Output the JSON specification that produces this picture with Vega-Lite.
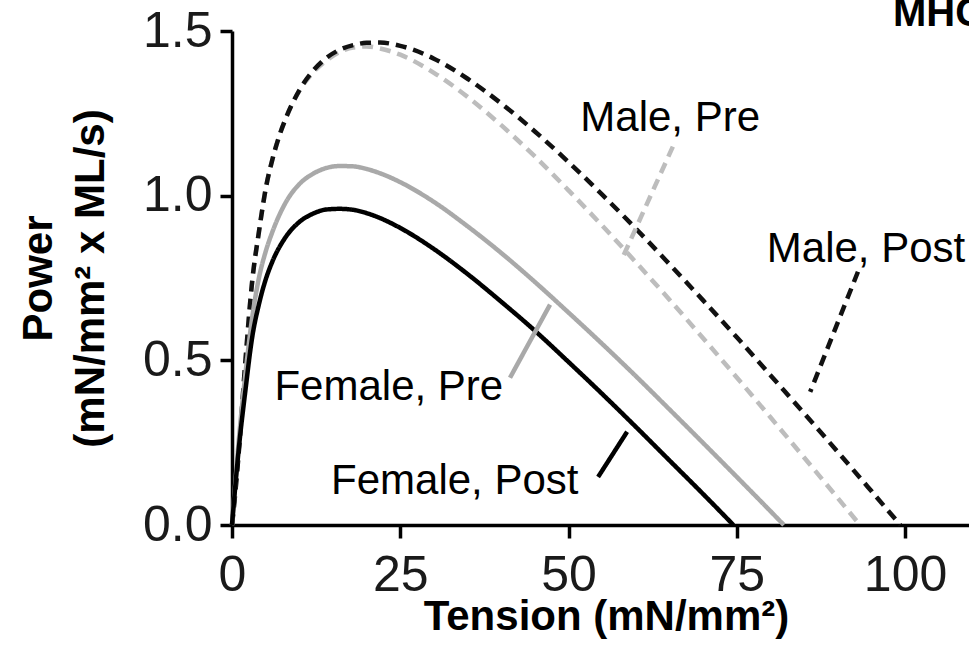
{
  "$schema": "https://vega.github.io/schema/vega-lite/v6.json",
  "autosize": {"type": "none"},
  "padding": {"left": 232, "top": 31, "right": 0, "bottom": 142},
  "width": 737,
  "height": 494,
  "background": "white",
  "config": {
    "view": {"stroke": null},
    "font": "Liberation Sans",
    "axis": {"grid": false}
  },
  "datasets": {
    "curves": [
      {"series": "Male, Pre", "t": 0, "p": 0},
      {"series": "Male, Pre", "t": 0.5, "p": 0.1},
      {"series": "Male, Pre", "t": 1, "p": 0.22},
      {"series": "Male, Pre", "t": 2, "p": 0.5},
      {"series": "Male, Pre", "t": 3, "p": 0.74},
      {"series": "Male, Pre", "t": 4, "p": 0.89},
      {"series": "Male, Pre", "t": 5, "p": 1.02},
      {"series": "Male, Pre", "t": 6, "p": 1.11},
      {"series": "Male, Pre", "t": 7, "p": 1.18},
      {"series": "Male, Pre", "t": 8, "p": 1.235},
      {"series": "Male, Pre", "t": 10, "p": 1.318},
      {"series": "Male, Pre", "t": 12, "p": 1.373},
      {"series": "Male, Pre", "t": 14, "p": 1.41},
      {"series": "Male, Pre", "t": 16, "p": 1.436},
      {"series": "Male, Pre", "t": 18, "p": 1.45},
      {"series": "Male, Pre", "t": 20, "p": 1.453},
      {"series": "Male, Pre", "t": 22, "p": 1.447},
      {"series": "Male, Pre", "t": 25, "p": 1.428},
      {"series": "Male, Pre", "t": 30, "p": 1.373},
      {"series": "Male, Pre", "t": 35, "p": 1.3},
      {"series": "Male, Pre", "t": 40, "p": 1.214},
      {"series": "Male, Pre", "t": 45, "p": 1.119},
      {"series": "Male, Pre", "t": 50, "p": 1.016},
      {"series": "Male, Pre", "t": 55, "p": 0.909},
      {"series": "Male, Pre", "t": 60, "p": 0.798},
      {"series": "Male, Pre", "t": 65, "p": 0.684},
      {"series": "Male, Pre", "t": 70, "p": 0.567},
      {"series": "Male, Pre", "t": 75, "p": 0.448},
      {"series": "Male, Pre", "t": 80, "p": 0.327},
      {"series": "Male, Pre", "t": 85, "p": 0.205},
      {"series": "Male, Pre", "t": 90, "p": 0.082},
      {"series": "Male, Pre", "t": 93.3, "p": 0},
      {"series": "Male, Post", "t": 0, "p": 0},
      {"series": "Male, Post", "t": 0.5, "p": 0.1},
      {"series": "Male, Post", "t": 1, "p": 0.22},
      {"series": "Male, Post", "t": 2, "p": 0.5},
      {"series": "Male, Post", "t": 3, "p": 0.74},
      {"series": "Male, Post", "t": 4, "p": 0.89},
      {"series": "Male, Post", "t": 5, "p": 1.02},
      {"series": "Male, Post", "t": 6, "p": 1.11},
      {"series": "Male, Post", "t": 7, "p": 1.18},
      {"series": "Male, Post", "t": 8, "p": 1.235},
      {"series": "Male, Post", "t": 10, "p": 1.32},
      {"series": "Male, Post", "t": 12, "p": 1.378},
      {"series": "Male, Post", "t": 14, "p": 1.418},
      {"series": "Male, Post", "t": 16, "p": 1.443},
      {"series": "Male, Post", "t": 18, "p": 1.457},
      {"series": "Male, Post", "t": 20, "p": 1.464},
      {"series": "Male, Post", "t": 22, "p": 1.465},
      {"series": "Male, Post", "t": 25, "p": 1.455},
      {"series": "Male, Post", "t": 30, "p": 1.416},
      {"series": "Male, Post", "t": 35, "p": 1.355},
      {"series": "Male, Post", "t": 40, "p": 1.28},
      {"series": "Male, Post", "t": 45, "p": 1.195},
      {"series": "Male, Post", "t": 50, "p": 1.102},
      {"series": "Male, Post", "t": 55, "p": 1.003},
      {"series": "Male, Post", "t": 60, "p": 0.9},
      {"series": "Male, Post", "t": 65, "p": 0.792},
      {"series": "Male, Post", "t": 70, "p": 0.682},
      {"series": "Male, Post", "t": 75, "p": 0.57},
      {"series": "Male, Post", "t": 80, "p": 0.455},
      {"series": "Male, Post", "t": 85, "p": 0.339},
      {"series": "Male, Post", "t": 90, "p": 0.222},
      {"series": "Male, Post", "t": 95, "p": 0.103},
      {"series": "Male, Post", "t": 99.3, "p": 0},
      {"series": "Female, Pre", "t": 0, "p": 0},
      {"series": "Female, Pre", "t": 0.5, "p": 0.13},
      {"series": "Female, Pre", "t": 1, "p": 0.255},
      {"series": "Female, Pre", "t": 2, "p": 0.46},
      {"series": "Female, Pre", "t": 3, "p": 0.63},
      {"series": "Female, Pre", "t": 4, "p": 0.75},
      {"series": "Female, Pre", "t": 5, "p": 0.83},
      {"series": "Female, Pre", "t": 6, "p": 0.89},
      {"series": "Female, Pre", "t": 8, "p": 0.98},
      {"series": "Female, Pre", "t": 10, "p": 1.035},
      {"series": "Female, Pre", "t": 12, "p": 1.066},
      {"series": "Female, Pre", "t": 14, "p": 1.084},
      {"series": "Female, Pre", "t": 16, "p": 1.09},
      {"series": "Female, Pre", "t": 18, "p": 1.089},
      {"series": "Female, Pre", "t": 20, "p": 1.081},
      {"series": "Female, Pre", "t": 22, "p": 1.068},
      {"series": "Female, Pre", "t": 25, "p": 1.041},
      {"series": "Female, Pre", "t": 30, "p": 0.981},
      {"series": "Female, Pre", "t": 35, "p": 0.907},
      {"series": "Female, Pre", "t": 40, "p": 0.826},
      {"series": "Female, Pre", "t": 45, "p": 0.738},
      {"series": "Female, Pre", "t": 50, "p": 0.645},
      {"series": "Female, Pre", "t": 55, "p": 0.55},
      {"series": "Female, Pre", "t": 60, "p": 0.452},
      {"series": "Female, Pre", "t": 65, "p": 0.351},
      {"series": "Female, Pre", "t": 70, "p": 0.249},
      {"series": "Female, Pre", "t": 75, "p": 0.146},
      {"series": "Female, Pre", "t": 80, "p": 0.042},
      {"series": "Female, Pre", "t": 82, "p": 0},
      {"series": "Female, Post", "t": 0, "p": 0},
      {"series": "Female, Post", "t": 0.5, "p": 0.12},
      {"series": "Female, Post", "t": 1, "p": 0.23},
      {"series": "Female, Post", "t": 2, "p": 0.41},
      {"series": "Female, Post", "t": 3, "p": 0.57},
      {"series": "Female, Post", "t": 4, "p": 0.67},
      {"series": "Female, Post", "t": 5, "p": 0.745},
      {"series": "Female, Post", "t": 6, "p": 0.8},
      {"series": "Female, Post", "t": 8, "p": 0.875},
      {"series": "Female, Post", "t": 10, "p": 0.92},
      {"series": "Female, Post", "t": 12, "p": 0.945},
      {"series": "Female, Post", "t": 14, "p": 0.958},
      {"series": "Female, Post", "t": 16, "p": 0.96},
      {"series": "Female, Post", "t": 18, "p": 0.957},
      {"series": "Female, Post", "t": 20, "p": 0.947},
      {"series": "Female, Post", "t": 22, "p": 0.932},
      {"series": "Female, Post", "t": 25, "p": 0.902},
      {"series": "Female, Post", "t": 30, "p": 0.838},
      {"series": "Female, Post", "t": 35, "p": 0.762},
      {"series": "Female, Post", "t": 40, "p": 0.678},
      {"series": "Female, Post", "t": 45, "p": 0.59},
      {"series": "Female, Post", "t": 50, "p": 0.495},
      {"series": "Female, Post", "t": 55, "p": 0.398},
      {"series": "Female, Post", "t": 60, "p": 0.298},
      {"series": "Female, Post", "t": 65, "p": 0.196},
      {"series": "Female, Post", "t": 70, "p": 0.094},
      {"series": "Female, Post", "t": 74.5, "p": 0}
    ],
    "leaders": [
      {"series": "Male, Pre", "x1": 65.5, "y1": 1.149, "x2": 58.1, "y2": 0.815},
      {"series": "Male, Post", "x1": 93.0, "y1": 0.769, "x2": 85.9, "y2": 0.404},
      {"series": "Female, Pre", "x1": 47.25, "y1": 0.669, "x2": 41.3, "y2": 0.447},
      {"series": "Female, Post", "x1": 58.7, "y1": 0.283, "x2": 54.4, "y2": 0.146}
    ],
    "labels": [
      {"label": "Male, Pre", "x": 65.1, "y": 1.195},
      {"label": "Male, Post", "x": 94.2, "y": 0.8},
      {"label": "Female, Pre", "x": 23.3, "y": 0.38},
      {"label": "Female, Post", "x": 33.1, "y": 0.094}
    ],
    "heading": [
      {"label": "MHC I", "x": 98.2, "y": 1.515}
    ]
  },
  "layer": [
    {
      "data": {"name": "curves"},
      "mark": {"type": "line", "interpolate": "monotone", "clip": false},
      "encoding": {
        "x": {
          "field": "t", "type": "quantitative",
          "scale": {"domain": [0, 109.5], "nice": false, "zero": false},
          "axis": {
            "values": [0, 25, 50, 75, 100],
            "title": "Tension (mN/mm²)",
            "domainColor": "black", "domainWidth": 3.5,
            "tickColor": "black", "tickWidth": 3.5, "tickSize": 13,
            "labelFont": "Liberation Sans", "labelFontSize": 50, "labelColor": "#1a1a1a",
            "labelPadding": 12, "labelFlush": false, "labelOverlap": false,
            "titleFont": "Liberation Sans", "titleFontSize": 42, "titleFontWeight": "bold", "titleColor": "black",
            "titleX": 374, "titleY": 104, "titleBaseline": "alphabetic", "titleAlign": "center"
          }
        },
        "y": {
          "field": "p", "type": "quantitative",
          "scale": {"domain": [0, 1.5], "nice": false},
          "axis": {
            "values": [0, 0.5, 1.0, 1.5],
            "format": ".1f",
            "title": ["Power", "(mN/mm² x ML/s)"],
            "domainColor": "black", "domainWidth": 3.5,
            "tickColor": "black", "tickWidth": 3.5, "tickSize": 12,
            "labelFont": "Liberation Sans", "labelFontSize": 50, "labelColor": "#1a1a1a",
            "labelPadding": 8, "labelFlush": false, "labelOverlap": false,
            "titleFont": "Liberation Sans", "titleFontSize": 42, "titleFontWeight": "bold", "titleColor": "black",
            "titleAngle": -90, "titleX": -172, "titleY": 247, "titleAlign": "center", "titleBaseline": "bottom", "titleLineHeight": 52
          }
        },
        "detail": {"field": "series"},
        "color": {
          "field": "series", "type": "nominal",
          "scale": {"domain": ["Male, Pre", "Male, Post", "Female, Pre", "Female, Post"], "range": ["#bdbdbd", "#111111", "#a9a9a9", "#000000"]},
          "legend": null
        },
        "strokeDash": {
          "field": "series", "type": "nominal",
          "scale": {"domain": ["Male, Pre", "Male, Post", "Female, Pre", "Female, Post"], "range": [[11, 7], [11, 7], [1, 0], [1, 0]]},
          "legend": null
        },
        "strokeWidth": {
          "field": "series", "type": "nominal",
          "scale": {"domain": ["Male, Pre", "Male, Post", "Female, Pre", "Female, Post"], "range": [4.5, 4.5, 3, 3.2]},
          "legend": null
        },
        "order": {"field": "t", "type": "quantitative"}
      }
    },
    {
      "data": {"name": "leaders"},
      "mark": {"type": "rule", "clip": false},
      "encoding": {
        "x": {"field": "x1", "type": "quantitative"},
        "y": {"field": "y1", "type": "quantitative"},
        "x2": {"field": "x2"},
        "y2": {"field": "y2"},
        "color": {"field": "series", "type": "nominal", "legend": null},
        "strokeDash": {"field": "series", "type": "nominal", "legend": null},
        "strokeWidth": {"field": "series", "type": "nominal", "legend": null}
      }
    },
    {
      "data": {"name": "labels"},
      "mark": {"type": "text", "font": "Liberation Sans", "fontSize": 42, "color": "black", "align": "center", "baseline": "alphabetic"},
      "encoding": {
        "x": {"field": "x", "type": "quantitative"},
        "y": {"field": "y", "type": "quantitative"},
        "text": {"field": "label"}
      }
    },
    {
      "data": {"name": "heading"},
      "mark": {"type": "text", "font": "Liberation Sans", "fontSize": 40, "fontWeight": "bold", "color": "black", "align": "left", "baseline": "alphabetic"},
      "encoding": {
        "x": {"field": "x", "type": "quantitative"},
        "y": {"field": "y", "type": "quantitative"},
        "text": {"field": "label"}
      }
    }
  ]
}
